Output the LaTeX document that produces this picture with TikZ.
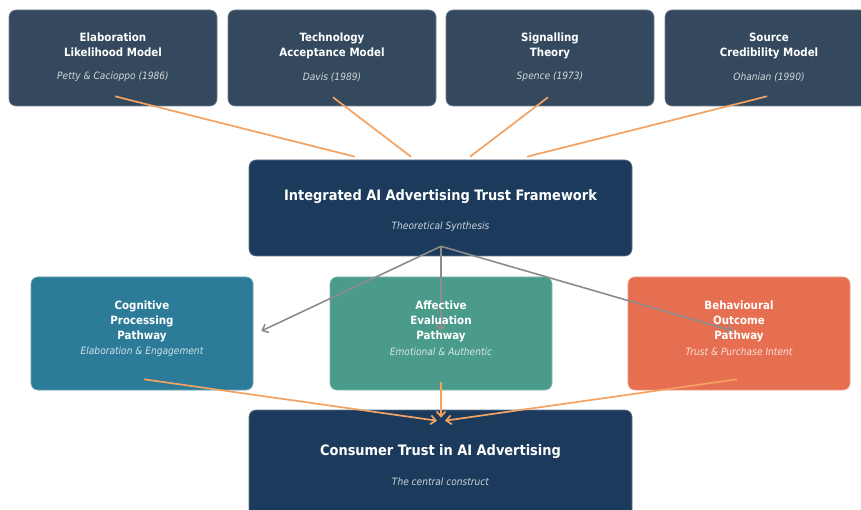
\documentclass[tikz,border=0pt]{standalone}
\usepackage{fontspec}
\setmainfont{DejaVu Sans Condensed}
\usetikzlibrary{arrows.meta,calc}

\definecolor{slate}{HTML}{34495E}
\definecolor{navy}{HTML}{1B3A5C}
\definecolor{cogblue}{HTML}{2C7B98}
\definecolor{affgreen}{HTML}{4A9B89}
\definecolor{behorange}{HTML}{E76F51}
\definecolor{linkorange}{HTML}{F4A261}
\definecolor{flowgrey}{HTML}{8C8C8C}

\begin{document}
\begin{tikzpicture}[x=1pt,y=-1pt,
  card/.style={rounded corners=7pt, fill=#1, draw=#1!70!white,
               line width=0.6pt, inner sep=0pt},
  theory/.style={card=slate, minimum width=208pt, minimum height=96pt},
  wide/.style={card=navy, minimum width=383pt, minimum height=96pt},
  path/.style={card=#1, minimum width=222pt, minimum height=113pt},
  ttl/.style={text=white, align=center, inner sep=0pt, text depth=0pt,
              font=\bfseries\fontsize{11.4}{15}\selectfont},
  bigttl/.style={text=white, inner sep=0pt,
              font=\bfseries\fontsize{14.4}{17}\selectfont},
  sub/.style={text=white, text opacity=0.78, inner sep=0pt,
              font=\itshape\fontsize{10.1}{12}\selectfont},
  feed/.style={draw=linkorange, line width=1.7pt},
  feedarrow/.style={feed, -{Straight Barb[length=5pt,width=9pt]}},
  split/.style={draw=flowgrey, line width=1.6pt,
                -{Straight Barb[length=5pt,width=9pt]}},
]
\clip (0,0) rectangle (861,510);
\fill[white] (0,0) rectangle (861,510);

% theory cards
\node[theory] (t1) at (113,58) {};
\node[theory] (t2) at (332,58) {};
\node[theory] (t3) at (550,58) {};
\node[theory] (t4) at (769,58) {};

% framework and outcome
\node[wide] (fw) at (440.5,208) {};
\node[wide, minimum height=110pt] (con) at (440.5,465) {};

% pathways
\node[path=cogblue]   (cog) at (142,333.5) {};
\node[path=affgreen]  (aff) at (441,333.5) {};
\node[path=behorange] (beh) at (739,333.5) {};

% theories feeding the framework
\draw[feed] ($(t1.south)+(2,-10)$) -- ($(fw.north)+(-85.5,-3)$);
\draw[feed] ($(t2.south)+(1,-9)$)  -- ($(fw.north)+(-29.5,-3)$);
\draw[feed] ($(t3.south)+(-2,-9)$) -- ($(fw.north)+(29.5,-3)$);
\draw[feed] ($(t4.south)+(-2,-10)$) -- ($(fw.north)+(86.5,-3)$);

% framework splitting into pathways
\coordinate (hub) at ($(fw.south)+(0.5,-10)$);
\draw[split] (hub) -- ($(cog.east)+(8,-2.5)$);
\draw[split] (hub) -- ($(aff.center)+(0,-2.5)$);
\draw[split] (hub) -- ($(beh.center)+(-6,-2.5)$);

% pathways converging on trust
\draw[feedarrow] ($(cog.south)+(2,-11)$)  -- ($(con.north)+(-3.5,11)$);
\draw[feedarrow] ($(aff.south)+(0,-8)$)   -- ($(con.north)+(0.5,8)$);
\draw[feedarrow] ($(beh.south)+(-2,-11)$) -- ($(con.north)+(4.5,11)$);

% labels
\node[ttl] (t1a) at (113,44.3) {Elaboration\\Likelihood Model};
\node[sub] (t1b) at (113,77) {Petty \& Cacioppo (1986)};
\node[ttl] (t2a) at (332,44.3) {Technology\\Acceptance Model};
\node[sub] (t2b) at (332,77) {Davis (1989)};
\node[ttl] (t3a) at (550,44.3) {Signalling\\Theory};
\node[sub] (t3b) at (550,77) {Spence (1973)};
\node[ttl] (t4a) at (769,44.3) {Source\\Credibility Model};
\node[sub] (t4b) at (769,77) {Ohanian (1990)};

\node[bigttl] (fwa) at (440.5,196.5) {Integrated AI Advertising Trust Framework};
\node[sub] (fwb) at (440.5,227) {Theoretical Synthesis};

\node[ttl] (coga) at (142,319.7) {Cognitive\\Processing\\Pathway};
\node[sub] (cogb) at (142,352) {Elaboration \& Engagement};
\node[ttl] (affa) at (441,319.7) {Affective\\Evaluation\\Pathway};
\node[sub] (affb) at (441,352) {Emotional \& Authentic};
\node[ttl] (beha) at (739,319.7) {Behavioural\\Outcome\\Pathway};
\node[sub] (behb) at (739,352) {Trust \& Purchase Intent};

\node[bigttl] (cona) at (440.5,451.5) {Consumer Trust in AI Advertising};
\node[sub] (conb) at (440.5,482) {The central construct};
\end{tikzpicture}
\end{document}
